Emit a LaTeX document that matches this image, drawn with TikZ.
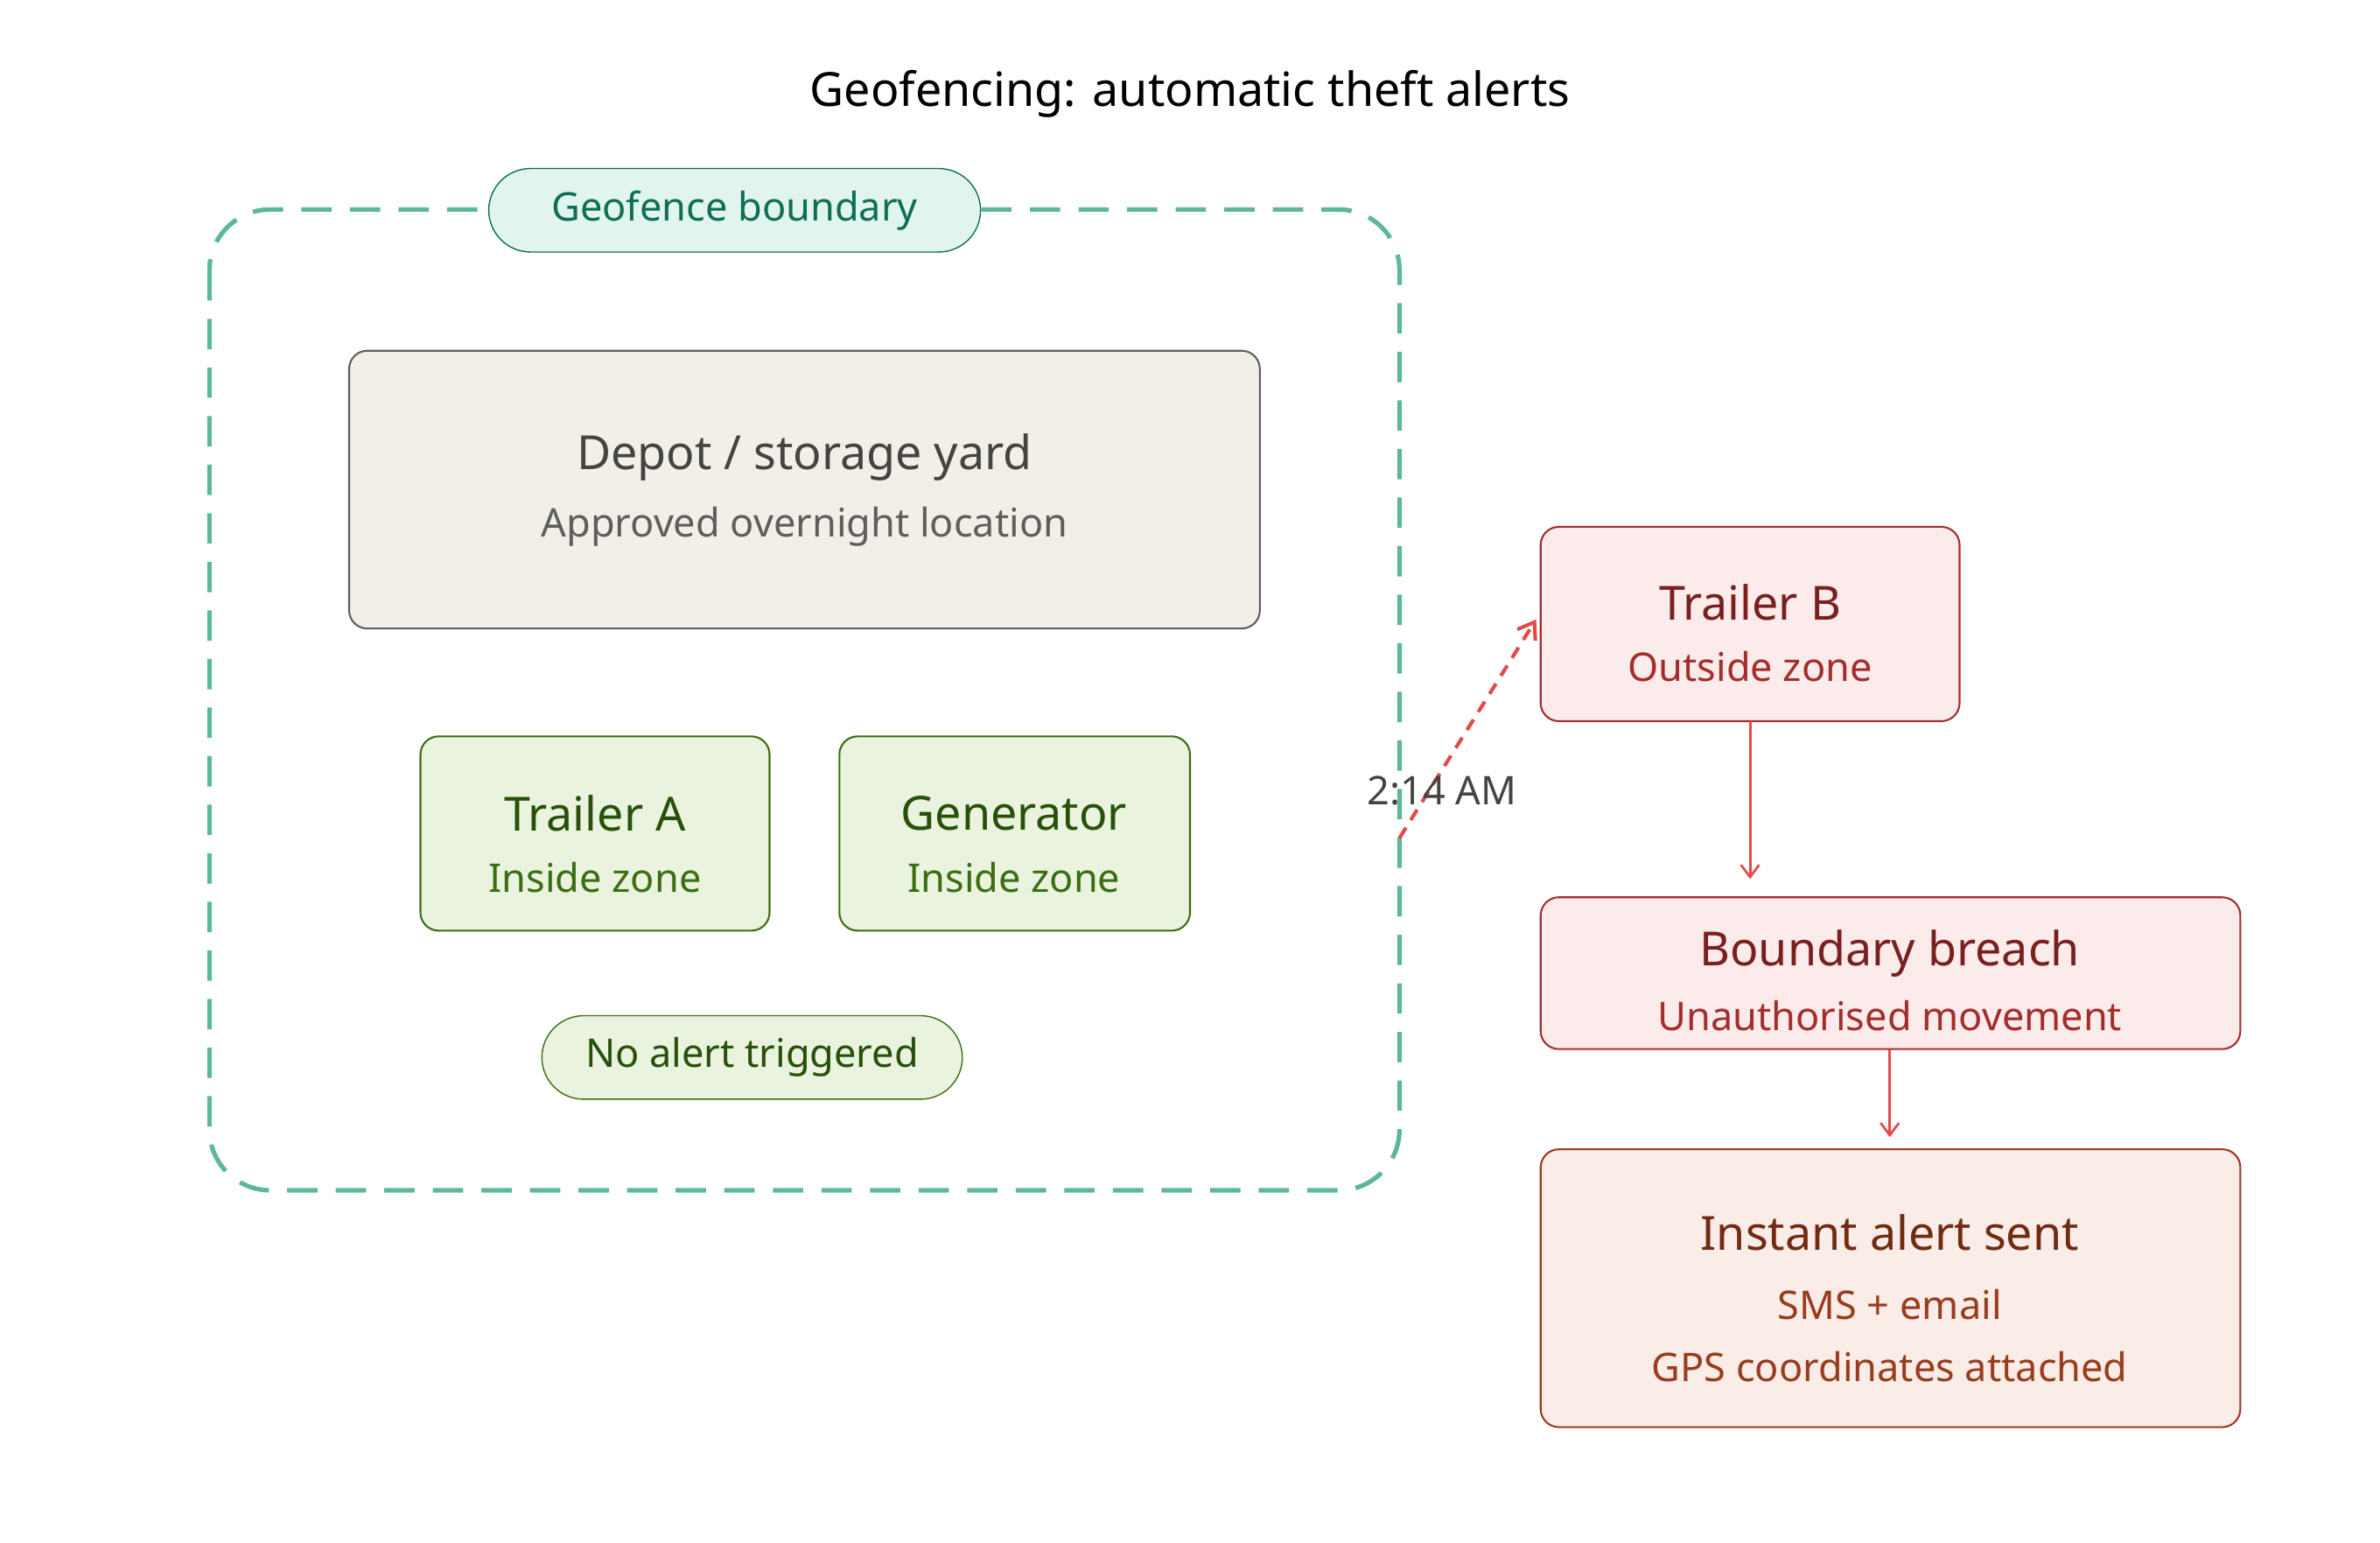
\documentclass[tikz,border=0pt]{standalone}
\usepackage{fontspec}
\setmainfont{Noto Sans}
\usetikzlibrary{arrows.meta}
\definecolor{gline}{HTML}{5DB89B}
\definecolor{gpfill}{HTML}{E1F5EE}
\definecolor{gpdraw}{HTML}{0F6E56}
\definecolor{dfill}{HTML}{F1EFE8}
\definecolor{ddraw}{HTML}{5F5E5A}
\definecolor{dtext}{HTML}{444441}
\definecolor{lfill}{HTML}{EAF3DE}
\definecolor{ldraw}{HTML}{3B6D11}
\definecolor{ltext}{HTML}{27500A}
\definecolor{rfill}{HTML}{FCEBEB}
\definecolor{rdraw}{HTML}{A32D2D}
\definecolor{rtext}{HTML}{791F1F}
\definecolor{ofill}{HTML}{FAECE7}
\definecolor{odraw}{HTML}{993C1D}
\definecolor{otext}{HTML}{712B13}
\definecolor{arr}{HTML}{E24B4A}
\tikzset{
  box/.style={rounded corners=6pt, line width=0.6pt},
  ttl/.style={font=\fontsize{15.5}{18}\selectfont\bfseries},
  sub/.style={font=\fontsize{13}{16}\selectfont},
  conn/.style={arr, line width=0.8pt, -{Straight Barb[length=4pt,width=6pt]}}
}
\begin{document}
\begin{tikzpicture}[x=0.5pt,y=-0.5pt]
\useasboundingbox (0,0) rectangle (1568,1016);
\node (title) at (784,62) {\fontsize{15.5}{18}\selectfont Geofencing: automatic theft alerts};
% geofence
\draw[gline, line width=1.5pt, dash pattern=on 10pt off 6pt, rounded corners=20pt] (138,138) rectangle (922,784);
\coordinate (gfr) at (922,552);
\node[draw=gpdraw, fill=gpfill, rounded corners=13.75pt, minimum width=162pt, minimum height=27.5pt, text=gpdraw, sub] (gp) at (484,138.5) {Geofence boundary};
% depot
\draw[box, draw=ddraw, fill=dfill] (230,231) rectangle (830,414);
\node (depot) at (530,322) {};
\node[ttl, text=dtext] at (530,301) {Depot / storage yard};
\node[sub, text=ddraw] at (530,347) {Approved overnight location};
% trailer A / generator
\draw[box, draw=ldraw, fill=lfill] (277,485) rectangle (507,613);
\node[ttl, text=ltext] (ta) at (392,536) {Trailer A};
\node[sub, text=ldraw] at (392,578) {Inside zone};
\draw[box, draw=ldraw, fill=lfill] (553,485) rectangle (784,613);
\node[ttl, text=ltext] (gen) at (668,536) {Generator};
\node[sub, text=ldraw] at (668,578) {Inside zone};
\node[draw=ldraw, fill=lfill, rounded corners=13.75pt, minimum width=138.5pt, minimum height=27.5pt, text=ltext, sub] (na) at (495.5,696.5) {No alert triggered};
% trailer B
\draw[box, draw=rdraw, fill=rfill] (1015,347) rectangle (1291,475);
\coordinate (tbw) at (1012,408);
\coordinate (tbs) at (1153,475);
\node[ttl, text=rtext] at (1153,397) {Trailer B};
\node[sub, text=rdraw] at (1153,439) {Outside zone};
% breach
\draw[box, draw=rdraw, fill=rfill] (1015,591) rectangle (1476,691);
\coordinate (bn) at (1153,579);
\coordinate (bs) at (1245,691);
\node[ttl, text=rtext] at (1245,628) {Boundary breach};
\node[sub, text=rdraw] at (1245,669) {Unauthorised movement};
% alert
\draw[box, draw=odraw, fill=ofill] (1015,757) rectangle (1476,940);
\coordinate (an) at (1245,749);
\node[ttl, text=otext] at (1245,812) {Instant alert sent};
\node[sub, text=odraw] at (1245,859) {SMS + email};
\node[sub, text=odraw] at (1245,900) {GPS coordinates attached};
% connectors
\draw[arr, line width=1.2pt, dash pattern=on 4pt off 3pt, -{Straight Barb[length=5pt,width=7pt]}] (gfr) -- (tbw);
\node[sub, text=dtext] (time) at (950,521) {2:14 AM};
\draw[conn] (tbs) -- (bn);
\draw[conn] (bs) -- (an);
\end{tikzpicture}
\end{document}
